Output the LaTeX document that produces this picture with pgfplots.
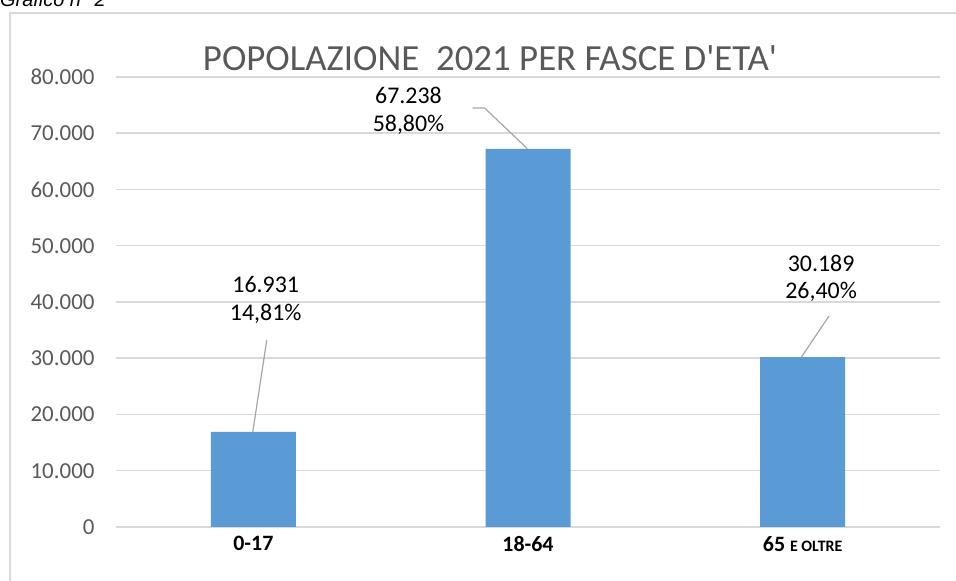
\documentclass[border=0pt]{standalone}
\usepackage{pgfplots}
\pgfplotsset{compat=1.18}
\usepackage{fontspec}
\setmainfont{Carlito}
\newfontfamily\arialfont{Liberation Sans}
\definecolor{barblue}{HTML}{5B9BD5}
\definecolor{gridgray}{HTML}{D9D9D9}
\definecolor{txtgray}{HTML}{595959}
\definecolor{leadgray}{HTML}{A6A6A6}

\begin{document}
\begin{tikzpicture}[x=1bp,y=1bp]
\useasboundingbox (0,0) rectangle (956,581);
% chart frame (right and bottom edges are cut off)
\draw[gridgray, line width=2bp] (10,-5) -- (10,568) -- (965,568);
\node[anchor=base west, font=\arialfont\itshape\fontsize{20}{24}\selectfont, inner sep=0] at (0,574) {Grafico n° 2};
\node[font=\fontsize{37}{40}\selectfont, text=txtgray] at (490,523) {POPOLAZIONE\ \ 2021 PER FASCE D\textquotesingle ETA\textquotesingle};
\begin{axis}[
    at={(116bp,54bp)}, anchor=south west,
    scale only axis, width=824bp, height=450bp,
    xmin=-0.5, xmax=2.5, ymin=0, ymax=80000,
    clip=false,
    axis line style={draw=none},
    tick style={draw=none},
    ymajorgrids=true,
    grid style={draw=gridgray, line width=1.5bp},
    ytick={0,10000,...,80000},
    scaled y ticks=false,
    yticklabel style={font=\fontsize{23}{26}\selectfont, text=txtgray, xshift=-18bp,
      /pgf/number format/.cd, 1000 sep={.}, assume math mode=true},
    xtick={0,1,2},
    xticklabels={\textbf{0-17},\textbf{18-64},\textbf{65} {\fontsize{16}{18}\selectfont\textbf{E OLTRE}}},
    xticklabel style={font=\fontsize{22}{24}\selectfont, yshift=-6bp},
  ]
  \addplot[ybar, bar width=85bp, fill=barblue, draw=none] coordinates {
    (0,16931) (1,67238) (2,30189)
  };
  % data labels with leader lines
  \draw[leadgray, line width=1.2bp] (axis cs:0.049,33244) -- (axis cs:-0.002,16931);
  \draw[leadgray, line width=1.2bp] (axis cs:0.798,74489) -- (axis cs:0.842,74489) -- (axis cs:0.998,67238);
  \draw[leadgray, line width=1.2bp] (axis cs:2.096,37511) -- (axis cs:1.995,30189);
  \begin{scope}[every node/.style={font=\fontsize{24}{26}\selectfont}]
  \node at (axis cs:0.045,43022) {16.931};
  \node at (axis cs:0.045,37867) {14,81\%};
  \node at (axis cs:0.565,76800) {67.238};
  \node at (axis cs:0.565,71467) {58,80\%};
  \node at (axis cs:2.067,46933) {30.189};
  \node at (axis cs:2.067,41778) {26,40\%};
  \end{scope}
\end{axis}
\end{tikzpicture}
\end{document}
